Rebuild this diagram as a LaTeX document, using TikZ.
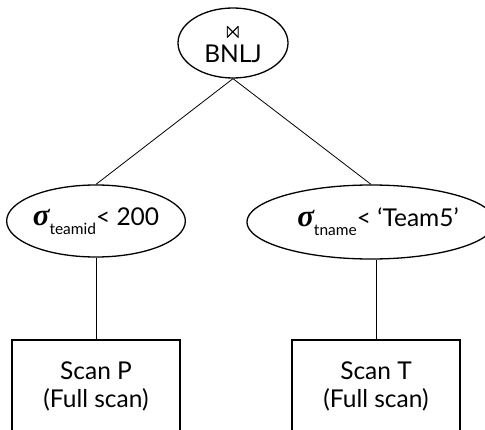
\documentclass[tikz,border=0pt]{standalone}
\usepackage{amssymb}
\usepackage{fontspec}
\setmainfont{Lato}
\newfontfamily\sigmafont{Liberation Serif}
\usepackage{tikz}
\usetikzlibrary{shapes.geometric}

\newcommand{\selsig}[1]{{\sigmafont\bfseries\itshape\fontsize{31}{31}\selectfont σ}\raisebox{-9pt}{\fontsize{15.5}{15.5}\selectfont #1}}

\tikzset{
  opnode/.style={ellipse, draw, line width=1.3pt, inner sep=0pt, align=center, font=\fontsize{24.5}{28}\selectfont},
  scanbox/.style={rectangle, draw, line width=1.3pt, inner sep=0pt, minimum width=168pt, minimum height=92pt, align=center, font=\fontsize{24.5}{28}\selectfont},
  edge/.style={line width=0.8pt}
}

\begin{document}
\begin{tikzpicture}[x=1pt,y=1pt]
\useasboundingbox (0,0) rectangle (485,429);
% join
\node [opnode, minimum width=110pt, minimum height=70pt] (join) at (233,386) {$\Join$\\[-4pt]BNLJ};
% selections
\node [opnode, minimum width=166pt, minimum height=72pt] (selP) at (96,208) {\selsig{teamid}< 200};
\node [opnode, minimum width=224pt, minimum height=74pt] (selT) at (371,207) {\hspace{14pt}\selsig{tname}< `Team5'};
% scans
\node [scanbox] (scanP) at (96,43) {Scan P\\(Full scan)};
\node [scanbox] (scanT) at (376,43) {Scan T\\(Full scan)};
\draw [edge] (join.south) -- (selP.north);
\draw [edge] (join.south) -- (selT.north);
\draw [edge] (selP.south) -- (scanP.north);
\draw [edge] (scanT.north) -- (scanT.north |- selT.south);
\end{tikzpicture}
\end{document}
